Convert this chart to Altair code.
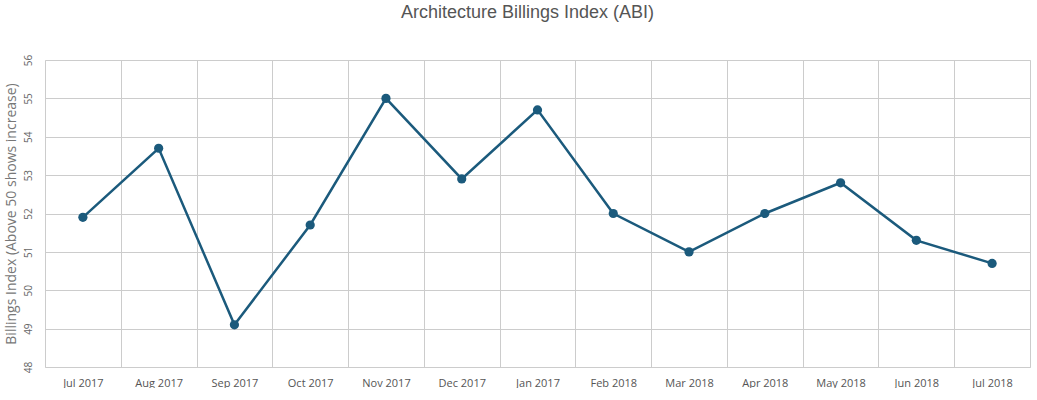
import altair as alt
import pandas as pd

months = ["Jul 2017", "Aug 2017", "Sep 2017", "Oct 2017", "Nov 2017", "Dec 2017",
          "Jan 2017", "Feb 2018", "Mar 2018", "Apr 2018", "May 2018", "Jun 2018", "Jul 2018"]
abi = [51.9, 53.7, 49.1, 51.7, 55.0, 52.9, 54.7, 52.0, 51.0, 52.0, 52.8, 51.3, 50.7]

df = pd.DataFrame({"month": months, "abi": abi})

color = "#1b5a7c"

x = alt.X("month:N", sort=months, title=None, bandPosition=0.5,
          scale=alt.Scale(type="band", paddingInner=0, paddingOuter=0),
          axis=alt.Axis(tickBand="extent", grid=True, gridColor="#cccccc", ticks=False,
                        domain=False, labelAngle=0, labelFont="Open Sans", labelFontSize=11,
                        labelColor="#555555", labelPadding=10))
y = alt.Y("abi:Q", title="Billings Index (Above 50 shows increase)",
          scale=alt.Scale(domain=[48, 56], nice=False, zero=False),
          axis=alt.Axis(values=list(range(48, 57)), grid=True, gridColor="#cccccc", ticks=False,
                        domain=False, labelAngle=270, labelAlign="center", labelBaseline="bottom",
                        labelFont="Open Sans", labelFontSize=10, labelColor="#666666",
                        labelPadding=12, titleFont="Open Sans", titleFontSize=14,
                        titleFontWeight="normal", titleColor="#777777", titlePadding=5))

base = alt.Chart(df)
line = base.mark_line(color=color, strokeWidth=2.5).encode(x=x, y=y)
pts = base.mark_circle(color=color, size=85, opacity=1).encode(x=x, y=y)

chart = (line + pts).properties(
    width=985, height=307,
    title=alt.TitleParams("Architecture Billings Index (ABI)", font="Liberation Sans",
                          fontSize=18, fontWeight="normal", color="#555555", offset=32, dx=-10),
    padding={"left": 4, "top": 4, "right": 5, "bottom": 0},
).configure_view(stroke="#cccccc").configure(background="white")

chart.save("out.html", embed_options={"renderer": "svg", "actions": False})
